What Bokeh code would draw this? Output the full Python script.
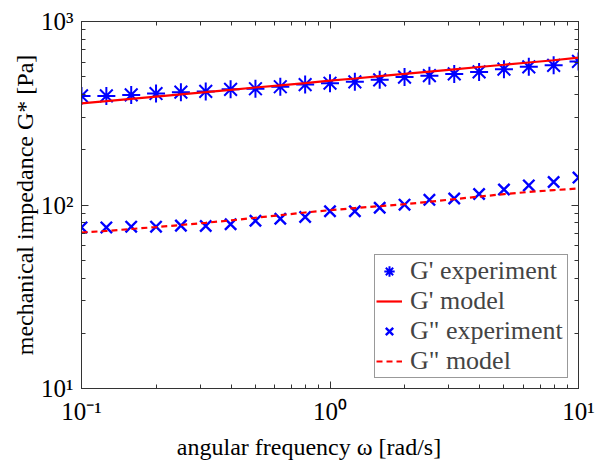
from bokeh.plotting import figure
from bokeh.models import LogAxis, Legend, LegendItem, Range1d, FixedTicker
from bokeh.embed import file_html
from bokeh.resources import INLINE

# angular frequency sweep [rad/s]
omega = [0.1, 0.1259, 0.1585, 0.1995, 0.2512, 0.3162, 0.3981, 0.5012, 0.6310, 0.7943,
         1.0, 1.259, 1.585, 1.995, 2.512, 3.162, 3.981, 5.012, 6.310, 7.943, 10.0]

# storage modulus G' [Pa]
g1_exp = [393, 393, 398, 405, 412, 416, 427, 430, 441, 453,
          461, 469, 481, 498, 507, 518, 531, 550, 566, 577, 606]
g1_model = [358, 368, 379, 390, 401, 412, 424, 437, 449, 462,
            476, 489, 504, 518, 533, 549, 565, 581, 598, 615, 635]

# loss modulus G'' [Pa]
g2_exp = [75.5, 75.5, 76.2, 76.2, 77.2, 76.8, 78.5, 82.0, 84.1, 86.0,
          92.5, 92.5, 96.6, 100.4, 106.7, 108.5, 114.8, 121.5, 127.9, 133.5, 141.0]
g2_model = [70.8, 72.2, 74.0, 75.8, 77.8, 80.0, 82.4, 85.2, 88.0, 91.0,
            93.7, 96.2, 98.6, 101.0, 104.2, 107.6, 111.1, 114.6, 117.8, 120.5, 123.0]

# decade ticks and their labels
x_major = [0.1, 1, 10]
y_major = [10, 100, 1000]
tick_text = {0.1: "10\u207b\u00b9", 1: "10\u2070", 10: "10\u00b9",
             100: "10\u00b2", 1000: "10\u00b3"}
mantissa = [2, 3, 4, 5, 6, 7, 8, 9]
x_minor = [m * d for d in (0.1, 1) for m in mantissa]
y_minor = [m * d for d in (10, 100) for m in mantissa]

FONT = "Liberation Serif"
AX = "#333333"


def ticker(major, minor):
    return FixedTicker(ticks=major, minor_ticks=minor)


p = figure(width=595, height=466, frame_width=497, frame_height=367,
           x_axis_type="log", y_axis_type="log",
           x_range=Range1d(0.1, 10), y_range=Range1d(10, 1000),
           output_backend="svg", toolbar_location=None,
           min_border_left=81, min_border_right=17,
           min_border_top=21, min_border_bottom=78)
p.background_fill_color = "white"
p.border_fill_color = "white"
p.grid.visible = False
p.outline_line_color = AX
p.outline_line_width = 1

p.xaxis.ticker = ticker(x_major, x_minor)
p.yaxis.ticker = ticker(y_major, y_minor)
# trailing no-break spaces nudge the centred title a little to the left
p.xaxis.axis_label = "angular frequency \u03c9 [rad/s]" + "\u00a0" * 7
p.yaxis.axis_label = "mechanical impedance G* [Pa]"

for ax in (p.xaxis[0], p.yaxis[0]):
    ax.axis_label_text_font = FONT
    ax.axis_label_text_font_size = "24px"
    ax.axis_label_text_font_style = "normal"
    ax.axis_label_text_color = "black"
    ax.major_label_text_font = FONT
    ax.major_label_text_font_size = "25px"
    ax.major_label_text_color = "black"
    ax.major_label_overrides = tick_text
    ax.axis_line_color = AX
    ax.major_tick_line_color = AX
    ax.minor_tick_line_color = AX
    ax.major_tick_in = 7
    ax.major_tick_out = 0
    ax.minor_tick_in = 4
    ax.minor_tick_out = 0
p.xaxis.major_label_standoff = 9
p.xaxis.axis_label_standoff = 6
p.yaxis.major_label_standoff = 8
p.yaxis.axis_label_standoff = 0

# tick marks on the opposite sides of the box, without labels
p.add_layout(LogAxis(ticker=ticker(x_major, x_minor), major_label_text_color=None,
                     major_label_text_font_size="1px", axis_line_color=AX,
                     major_tick_line_color=AX, minor_tick_line_color=AX,
                     major_tick_in=7, major_tick_out=0, minor_tick_in=4,
                     minor_tick_out=0, major_label_standoff=0), "above")
p.add_layout(LogAxis(ticker=ticker(y_major, y_minor), major_label_text_color=None,
                     major_label_text_font_size="1px", axis_line_color=AX,
                     major_tick_line_color=AX, minor_tick_line_color=AX,
                     major_tick_in=7, major_tick_out=0, minor_tick_in=4,
                     minor_tick_out=0, major_label_standoff=0), "right")

r1 = p.scatter(omega, g1_exp, marker="asterisk", size=18, line_color="blue",
               line_width=2.0)
r2 = p.line(omega, g1_model, line_color="red", line_width=2.2)
r3 = p.scatter(omega, g2_exp, marker="x", size=16, line_color="blue",
               line_width=2.4)
r4 = p.line(omega, g2_model, line_color="red", line_width=2.2, line_dash="6 4")

legend = Legend(items=[LegendItem(label="G' experiment", renderers=[r1]),
                       LegendItem(label="G' model", renderers=[r2]),
                       LegendItem(label='G" experiment', renderers=[r3]),
                       LegendItem(label='G" model', renderers=[r4])],
                location="bottom_right", padding=1, spacing=0, margin=10,
                label_height=30, glyph_height=30, glyph_width=26,
                label_width=156, label_standoff=8,
                label_text_font=FONT, label_text_font_size="26px",
                border_line_color=AX, border_line_width=1,
                background_fill_color="white", background_fill_alpha=1)
p.add_layout(legend)

open("out.html", "w").write(file_html(p, INLINE))
